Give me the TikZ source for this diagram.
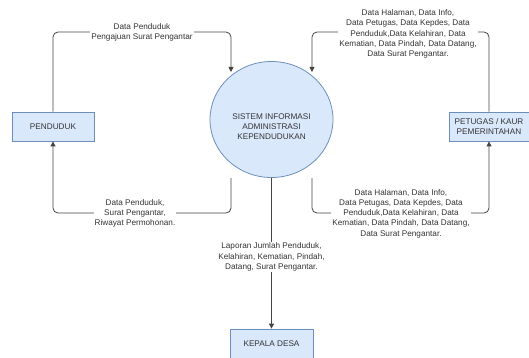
\documentclass[tikz,border=0pt]{standalone}
\usepackage{fontspec}
\setmainfont{Liberation Sans}
\usetikzlibrary{arrows.meta,calc,shapes.geometric}
\definecolor{boxfill}{HTML}{DAE8FC}
\definecolor{boxline}{HTML}{6C8EBF}
\definecolor{txt}{HTML}{333333}
\definecolor{wire}{HTML}{444444}
\begin{document}
\begin{tikzpicture}[x=1pt,y=-1pt,
  every node/.style={font=\fontsize{8.2}{10.3}\selectfont, text=txt},
  entity/.style={draw=boxline, fill=boxfill, line width=0.8pt, minimum height=29pt, inner sep=0pt, align=center},
  procbox/.style={ellipse, draw=boxline, fill=boxfill, line width=0.8pt, minimum width=123pt, minimum height=116pt, inner sep=0pt},
  flow/.style={draw=wire, line width=0.8pt, rounded corners=5pt, -{Triangle[width=5pt,length=5pt]}},
  lbl/.style={fill=white, inner xsep=1pt, inner ysep=0.5pt, align=center}]
\useasboundingbox (0,0) rectangle (529,358);

\node[procbox] (sys) at (271.5,119.5) {};
\node[align=center, inner sep=0pt] (systxt) at (271.5,126.5) {SISTEM INFORMASI\\ADMINISTRASI\\KEPENDUDUKAN};
\node[entity, minimum width=82pt] (pend) at (53,126.5) {PENDUDUK};
\node[entity, minimum width=80pt] (pet) at (489,126.5) {PETUGAS / KAUR\\PEMERINTAHAN};
\node[entity, minimum width=83pt] (kep) at (271.5,343.5) {KEPALA DESA};

\coordinate (a1) at (231,72);
\coordinate (a2) at (312,72);
\coordinate (b1) at (231,178);
\coordinate (b2) at (312,178);
\coordinate (b3) at (271.5,178);

% Penduduk -> Sistem
\draw[flow] (pend.north) |- (231,32) -- (a1);
% Petugas -> Sistem
\draw[flow] (pet.north) |- (312,32) -- (a2);
% Sistem -> Penduduk
\draw[flow] (b1) |- (53,213) -- (pend.south);
% Sistem -> Petugas
\draw[flow] (b2) |- (489,213) -- (pet.south);
% Sistem -> Kepala Desa
\draw[flow] (b3) -- (kep.north);

\node[lbl] (l1) at (142,32.5) {Data Penduduk\\Pengajuan Surat Pengantar};
\node[lbl] (l2) at (408,34) {Data Halaman, Data Info,\\Data Petugas, Data Kepdes, Data\\Penduduk,Data Kelahiran, Data\\Kematian, Data Pindah, Data Datang,\\Data Surat Pengantar.};
\node[lbl] (l3) at (135,213.5) {Data Penduduk,\\Surat Pengantar,\\Riwayat Permohonan.};
\node[lbl] (l4) at (401,213.5) {Data Halaman, Data Info,\\Data Petugas, Data Kepdes, Data\\Penduduk,Data Kelahiran, Data\\Kematian, Data Pindah, Data Datang,\\Data Surat Pengantar.};
\node[lbl] (l5) at (271.5,257) {Laporan Jumlah Penduduk,\\Kelahiran, Kematian, Pindah,\\Datang, Surat Pengantar.};
\end{tikzpicture}
\end{document}
